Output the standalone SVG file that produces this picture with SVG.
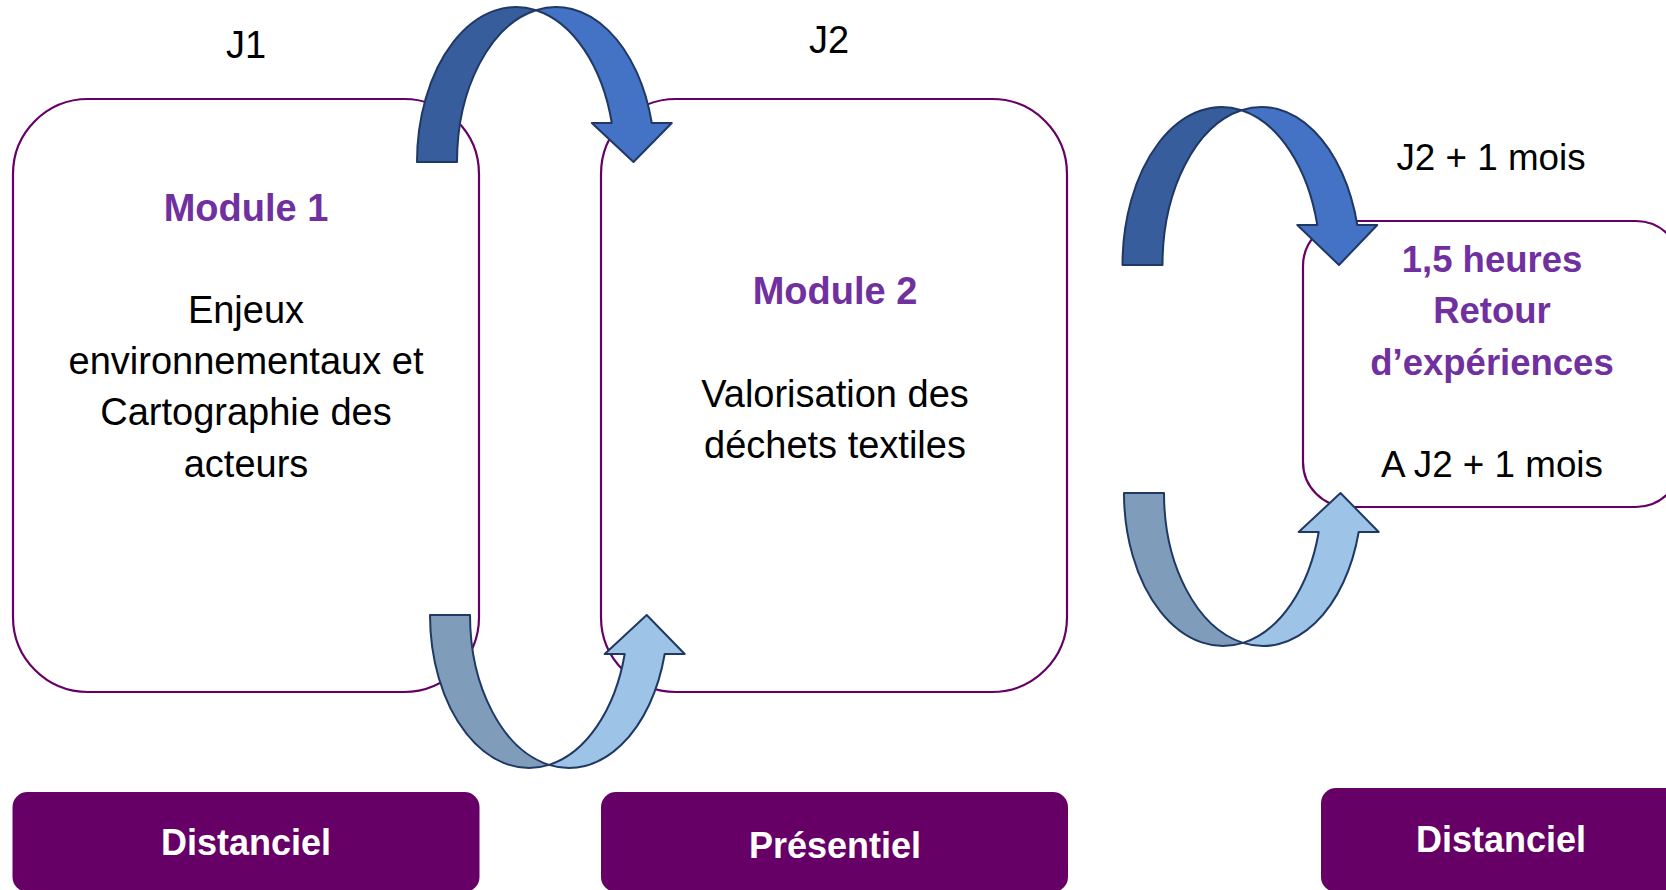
<svg xmlns="http://www.w3.org/2000/svg" width="1666" height="890" viewBox="0 0 1666 890">
<style>
.box{fill:#ffffff;stroke:#660066;stroke-width:2.2}
.btn{fill:#660066;stroke:none}
.t{font-family:"Liberation Sans",Arial,sans-serif;font-size:38px;fill:#000000;text-anchor:middle}
.h{font-family:"Liberation Sans",Arial,sans-serif;font-size:38px;font-weight:bold;fill:#7030A0;text-anchor:middle}
.h3{font-size:36.5px}
.t3{font-size:36.8px}
.bt{font-family:"Liberation Sans",Arial,sans-serif;font-size:36px;font-weight:bold;fill:#ffffff;text-anchor:middle}
.arr{stroke:#1F3864;stroke-width:2;stroke-linejoin:round}
.d1{fill:#375D9C}
.l1{fill:#4472C4}
.d2{fill:#7F9DBA}
.l2{fill:#9DC3E6}
</style>
<rect width="1666" height="890" fill="#ffffff"/>
<g id="node-module1">
<rect class="box" x="13" y="99" width="466" height="593" rx="75" ry="75"/>
<text class="h" x="246" y="221">Module 1</text>
<text class="t" x="246" y="323">Enjeux</text>
<text class="t" x="246" y="374">environnementaux et</text>
<text class="t" x="246" y="425">Cartographie des</text>
<text class="t" x="246" y="477">acteurs</text>
</g>
<g id="node-module2">
<rect class="box" x="601" y="99" width="466" height="593" rx="75" ry="75"/>
<text class="h" x="835" y="304">Module 2</text>
<text class="t" x="835" y="407">Valorisation des</text>
<text class="t" x="835" y="458">déchets textiles</text>
</g>
<g id="node-retour">
<rect class="box" x="1303" y="221" width="378" height="286" rx="45" ry="45"/>
<text class="h h3" x="1492" y="272">1,5 heures</text>
<text class="h h3" x="1492" y="323">Retour</text>
<text class="h h3" x="1492" y="375">d’expériences</text>
<text class="t t3" x="1492" y="477">A J2 + 1 mois</text>
</g>
<g id="node-distanciel1">
<rect class="btn" x="12.5" y="792" width="467" height="100" rx="15" ry="15"/>
<text class="bt" x="246" y="855">Distanciel</text>
</g>
<g id="node-presentiel">
<rect class="btn" x="601" y="792" width="467" height="100" rx="15" ry="15"/>
<text class="bt" x="835" y="858">Présentiel</text>
</g>
<g id="node-distanciel2">
<rect class="btn" x="1321" y="788" width="380" height="104" rx="15" ry="15"/>
<text class="bt" x="1501" y="852">Distanciel</text>
</g>
<g id="labels">
<text class="t" x="246" y="58">J1</text>
<text class="t" x="829" y="53">J2</text>
<text class="t t3" x="1491" y="170">J2 + 1 mois</text>
</g>
<g id="connectors">
<g id="arrow-m1-m2-top">
<path class="arr d1" d="M417,162 A99,155 0 0 1 536,10.19 A99,155 0 0 0 457,162 Z"/>
<path class="arr l1" d="M536,10.19 A99,155 0 0 1 651.8,123 L671.8,123 L633.5,162 L591.8,123 L611.8,123 A99,155 0 0 0 536,10.19 Z"/>
</g>
<g id="arrow-m1-m2-bottom">
<path class="arr d2" d="M430,615 A99,153 0 0 0 549,764.85 A99,153 0 0 1 470,615 Z"/>
<path class="arr l2" d="M549,764.85 A99,153 0 0 0 664.7,654 L684.7,654 L646.7,615 L604.7,654 L624.7,654 A99,153 0 0 1 549,764.85 Z"/>
</g>
<g id="arrow-m2-retour-top">
<path class="arr d1" d="M1122.5,265 A99,158 0 0 1 1241.5,110.25 A99,158 0 0 0 1162.5,265 Z"/>
<path class="arr l1" d="M1241.5,110.25 A99,158 0 0 1 1357.3,225 L1377.3,225 L1339,265 L1297.3,225 L1317.3,225 A99,158 0 0 0 1241.5,110.25 Z"/>
</g>
<g id="arrow-m2-retour-bottom">
<path class="arr d2" d="M1124,493 A99,153 0 0 0 1243,642.85 A99,153 0 0 1 1164,493 Z"/>
<path class="arr l2" d="M1243,642.85 A99,153 0 0 0 1358.7,532 L1378.7,532 L1340.5,493 L1298.7,532 L1318.7,532 A99,153 0 0 1 1243,642.85 Z"/>
</g>
</g>
</svg>
